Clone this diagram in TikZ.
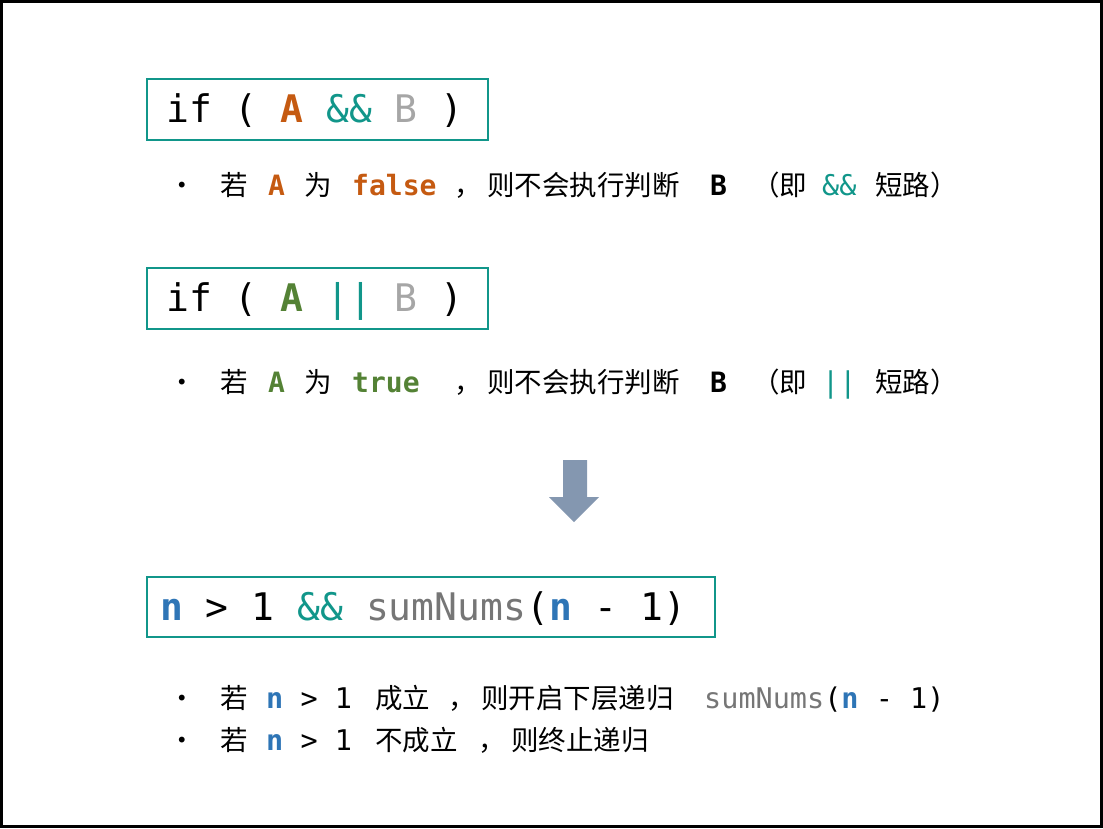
\documentclass[tikz,border=0pt]{standalone}
\usepackage{fontspec}
\newfontfamily\mono{DejaVu Sans Mono}
\newfontfamily\cjk{Noto Sans CJK SC}
\definecolor{teal1}{HTML}{11968A}
\definecolor{org}{HTML}{C55A11}
\definecolor{grn}{HTML}{548235}
\definecolor{blu}{HTML}{2E75B6}
\definecolor{lg}{HTML}{A6A6A6}
\definecolor{dg}{HTML}{767676}
\definecolor{arr}{HTML}{8497B0}
\begin{document}
\begin{tikzpicture}[x=1pt,y=-1pt,
  box/.style={draw=teal1,line width=1.5pt},
  big/.style={anchor=base west,inner sep=0,font=\mono\fontsize{38}{38}\selectfont},
  t/.style={anchor=base west,inner sep=0,font=\cjk\fontsize{27.5}{27.5}\selectfont},
  m/.style={anchor=base west,inner sep=0,font=\mono\fontsize{28.5}{28.5}\selectfont},
  mb/.style={anchor=base west,inner sep=0,font=\mono\bfseries\fontsize{28}{28}\selectfont}]
\useasboundingbox (0,0) rectangle (1103,828);
\draw[line width=3pt] (1.5,1.5) rectangle (1101.5,826.5);
% box 1
\draw[box] (147,79) rectangle (488,140);
\node[big] (c1) at (166,122) {if ( \textcolor{org}{\bfseries A} \textcolor{teal1}{\&\&} \textcolor{lg}{B} )};
\node[t] (b1) at (168,195) {•};
\node[t] at (220,195) {若};
\node[mb,text=org] at (268,195) {A};
\node[t] at (304,195) {为};
\node[mb,text=org] at (352,195) {false};
\node[t] at (454,195) {，};
\node[t] at (487,195) {则不会执行判断};
\node[mb] at (710,195) {B};
\node[t] at (752,195) {（即};
\node[m,text=teal1] at (822,195) {\&\&};
\node[t] at (875,195) {短路）};
% box 2
\draw[box] (147,268) rectangle (488,329);
\node[big] (c2) at (166,311) {if ( \textcolor{grn}{\bfseries A} \textcolor{teal1}{||} \textcolor{lg}{B} )};
\node[t] at (168,392) {•};
\node[t] at (220,392) {若};
\node[mb,text=grn] at (268,392) {A};
\node[t] at (304,392) {为};
\node[mb,text=grn] at (352,392) {true};
\node[t] at (454,392) {，};
\node[t] at (487,392) {则不会执行判断};
\node[mb] at (710,392) {B};
\node[t] at (752,392) {（即};
\node[m,text=teal1] at (822,392) {||};
\node[t] at (875,392) {短路）};
% arrow
\fill[arr] (563,460) -- (587,460) -- (587,497) -- (599,497) -- (574,522) -- (549,497) -- (563,497) -- cycle;
% box 3
\draw[box] (147,577) rectangle (715,637);
\node[big] (c3) at (160,620) {\textcolor{blu}{\bfseries n} > 1 \textcolor{teal1}{\&\&} \textcolor{dg}{sumNums}(\textcolor{blu}{\bfseries n} - 1)};
\node[t] at (168,708) {•};
\node[t] at (220,708) {若};
\node[m] at (266,708) {\textcolor{blu}{\bfseries n} > 1};
\node[t] at (375,708) {成立};
\node[t] at (448,708) {，};
\node[t] at (481,708) {则开启下层递归};
\node[m] at (704,708) {\textcolor{dg}{sumNums}(\textcolor{blu}{\bfseries n} - 1)};
\node[t] at (168,750) {•};
\node[t] at (220,750) {若};
\node[m] at (266,750) {\textcolor{blu}{\bfseries n} > 1};
\node[t] at (375,750) {不成立};
\node[t] at (478,750) {，};
\node[t] at (511,750) {则终止递归};
\end{tikzpicture}
\end{document}
